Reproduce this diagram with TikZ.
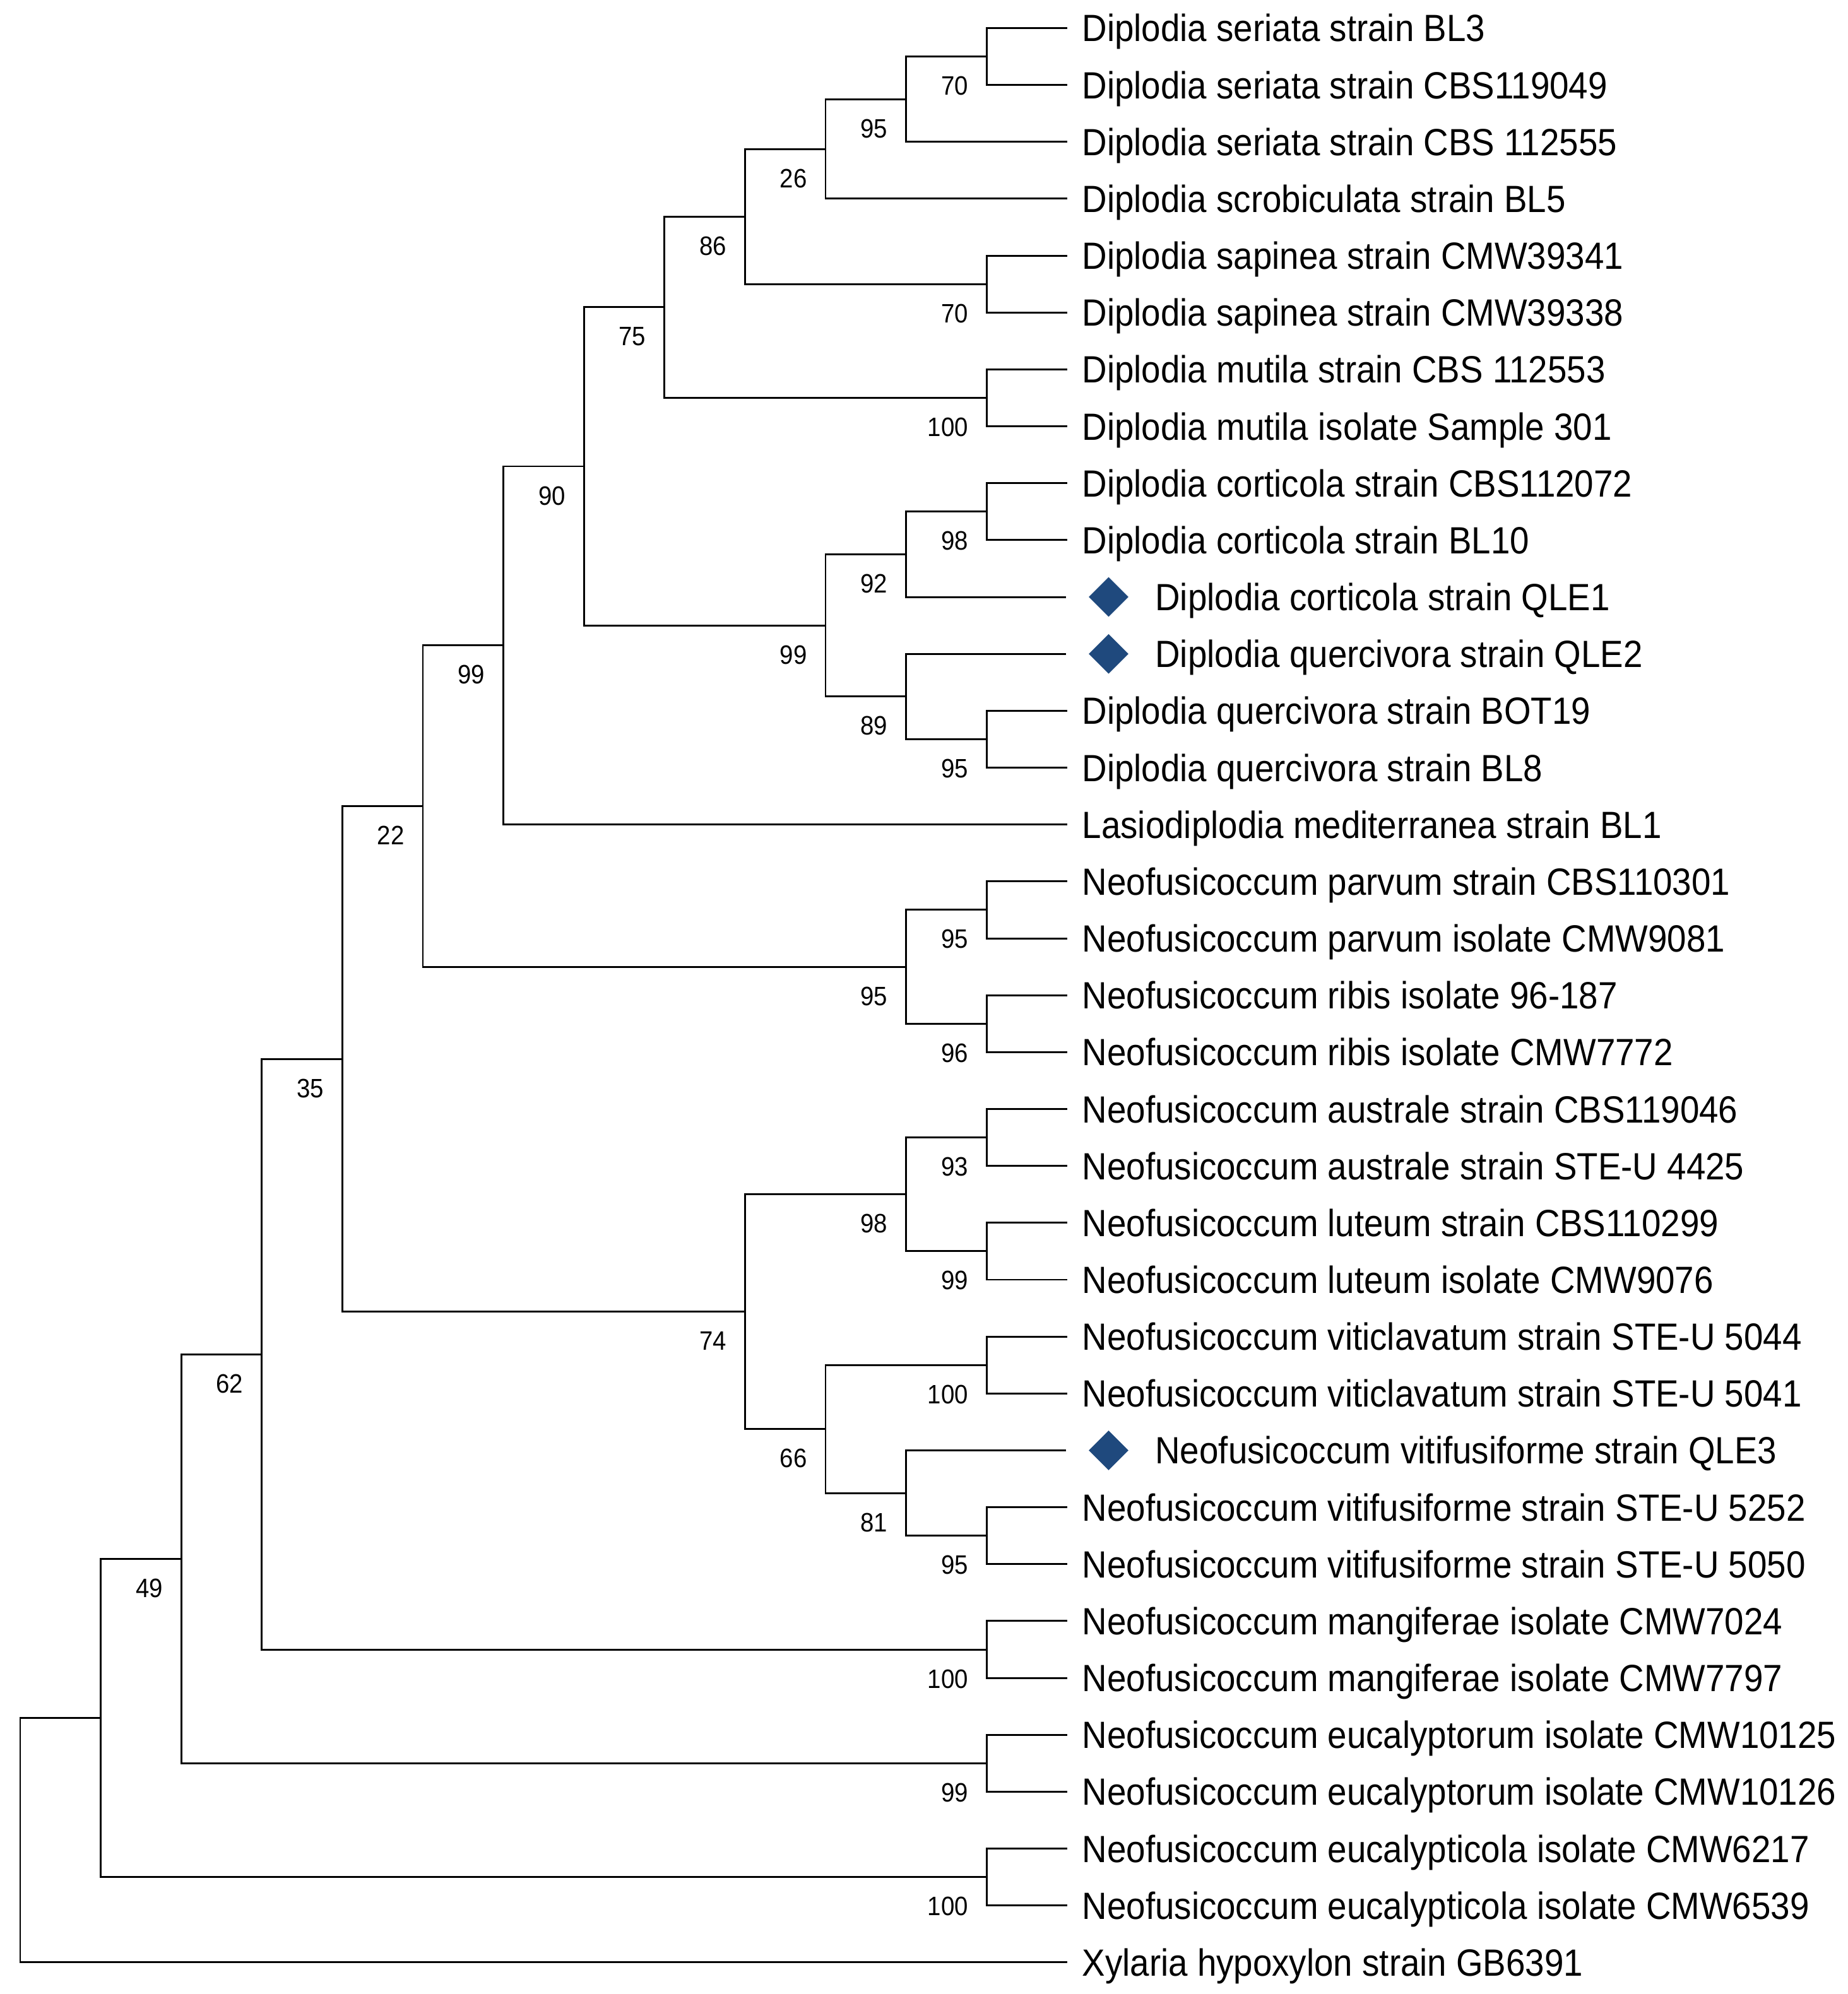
\documentclass[tikz,border=0pt]{standalone}
\usepackage{fontspec}
\setmainfont[FakeStretch=0.91]{Liberation Sans}
\usepackage{tikz}
\usetikzlibrary{positioning,shapes.geometric}
\definecolor{qleblue}{RGB}{31,73,125}
\tikzset{
  taxon/.style={anchor=west, inner xsep=0.24cm, inner ysep=0pt, outer sep=0pt,
    text height=0.43cm, text depth=0pt, font=\fontsize{17.1}{20}\selectfont},
  boot/.style={anchor=east, inner sep=0pt, xshift=-0.28cm, yshift=-0.46cm,
    text height=0.30cm, text depth=0pt, font=\fontsize{12}{14}\selectfont},
  newseq/.style={diamond, aspect=1, fill=qleblue, draw=none, inner sep=0pt,
    minimum width=0.64cm, minimum height=0.64cm}
}

\begin{document}
\begin{tikzpicture}[x=1.276cm, y=-0.9016cm, line width=0.85pt]
      \useasboundingbox (-0.2508,0.5065) rectangle (22.696,35.556);
      %%%%%%%%%%%%%%%%%%%%%%%%%%%%%%%%%%%%%%%%%%%%%%%
      \node[taxon] at (13,1)  (t1)  {Diplodia seriata strain BL3};
      \node[taxon] at (13,2)  (t2)  {Diplodia seriata strain CBS119049};
      \node[taxon] at (13,3)  (t3)  {Diplodia seriata strain CBS 112555};
      \node[taxon] at (13,4)  (t4)  {Diplodia scrobiculata strain BL5};
      \node[taxon] at (13,5)  (t5)  {Diplodia sapinea strain CMW39341};
      \node[taxon] at (13,6)  (t6)  {Diplodia sapinea strain CMW39338};
      \node[taxon] at (13,7)  (t7)  {Diplodia mutila strain CBS 112553};
      \node[taxon] at (13,8)  (t8)  {Diplodia mutila isolate Sample 301};
      \node[taxon] at (13,9)  (t9)  {Diplodia corticola strain CBS112072};
      \node[taxon] at (13,10) (t10) {Diplodia corticola strain BL10};
      \node[newseq] at (13.515,11) (q11) {};
      \node[taxon, right=0.165cm of q11] (t11) {Diplodia corticola strain QLE1};
      \node[newseq] at (13.515,12) (q12) {};
      \node[taxon, right=0.165cm of q12] (t12) {Diplodia quercivora strain QLE2};
      \node[taxon] at (13,13) (t13) {Diplodia quercivora strain BOT19};
      \node[taxon] at (13,14) (t14) {Diplodia quercivora strain BL8};
      \node[taxon] at (13,15) (t15) {Lasiodiplodia mediterranea strain BL1};
      %%%%%%%%%%%%%%%%%%%%%%%%%%%%%%%%%%%%%%%%%%%%%%%
      \node[taxon] at (13,16) (t16) {Neofusicoccum parvum strain CBS110301};
      \node[taxon] at (13,17) (t17) {Neofusicoccum parvum isolate CMW9081};
      \node[taxon] at (13,18) (t18) {Neofusicoccum ribis isolate 96-187};
      \node[taxon] at (13,19) (t19) {Neofusicoccum ribis isolate CMW7772};
      \node[taxon] at (13,20) (t20) {Neofusicoccum australe strain CBS119046};
      \node[taxon] at (13,21) (t21) {Neofusicoccum australe strain STE-U 4425};
      \node[taxon] at (13,22) (t22) {Neofusicoccum luteum strain CBS110299};
      \node[taxon] at (13,23) (t23) {Neofusicoccum luteum isolate CMW9076};
      \node[taxon] at (13,24) (t24) {Neofusicoccum viticlavatum strain STE-U 5044};
      \node[taxon] at (13,25) (t25) {Neofusicoccum viticlavatum strain STE-U 5041};
      \node[newseq] at (13.515,26) (q26) {};
      \node[taxon, right=0.165cm of q26] (t26) {Neofusicoccum vitifusiforme strain QLE3};
      \node[taxon] at (13,27) (t27) {Neofusicoccum vitifusiforme strain STE-U 5252};
      \node[taxon] at (13,28) (t28) {Neofusicoccum vitifusiforme strain STE-U 5050};
      \node[taxon] at (13,29) (t29) {Neofusicoccum mangiferae isolate CMW7024};
      \node[taxon] at (13,30) (t30) {Neofusicoccum mangiferae isolate CMW7797};
      \node[taxon] at (13,31) (t31) {Neofusicoccum eucalyptorum isolate CMW10125};
      \node[taxon] at (13,32) (t32) {Neofusicoccum eucalyptorum isolate CMW10126};
      \node[taxon] at (13,33) (t33) {Neofusicoccum eucalypticola isolate CMW6217};
      \node[taxon] at (13,34) (t34) {Neofusicoccum eucalypticola isolate CMW6539};
      \node[taxon] at (13,35) (t35) {Xylaria hypoxylon strain GB6391};
      %%%%%%%%%%%%%%%%%%%%%%%%%%%%%%%%%%%%%%%%%%%%%%%
      \coordinate (n1)  at (12,1.5);
      \coordinate (n2)  at (11,2.25);
      \coordinate (n3)  at (10,3.125);
      \coordinate (n4)  at (12,5.5);
      \coordinate (n5)  at (9,4.3125);
      \coordinate (n6)  at (12,7.5);
      \coordinate (n7)  at (8,5.90625);
      \coordinate (n8)  at (12,9.5);
      \coordinate (n9)  at (11,10.25);
      \coordinate (n10) at (12,13.5);
      \coordinate (n11) at (11,12.75);
      \coordinate (n12) at (10,11.5);
      \coordinate (n13) at (7,8.703125);
      \coordinate (n14) at (6,11.8515625);
      \coordinate (n15) at (12,16.5);
      \coordinate (n16) at (12,18.5);
      \coordinate (n17) at (11,17.5);
      \coordinate (n18) at (5,14.67578);
      \coordinate (n19) at (12,20.5);
      \coordinate (n20) at (12,22.5);
      \coordinate (n21) at (11,21.5);
      \coordinate (n22) at (12,24.5);
      \coordinate (n23) at (12,27.5);
      \coordinate (n24) at (11,26.75);
      \coordinate (n25) at (10,25.625);
      \coordinate (n26) at (9,23.5625);
      \coordinate (n27) at (4,19.11914);
      \coordinate (n28) at (12,29.5);
      \coordinate (n29) at (3,24.30957);
      \coordinate (n30) at (12,31.5);
      \coordinate (n31) at (2,27.90479);
      \coordinate (n32) at (12,33.5);
      \coordinate (n33) at (1,30.70239);
      \coordinate (root) at (0,32.85120);
      %%%%%%%%%%%%%%%%%%%%%%%%%%%%%%%%%%%%%%%%%%%%%%%
      \node[boot] at (n1)  (b1)  {70};
      \node[boot] at (n2)  (b2)  {95};
      \node[boot] at (n3)  (b3)  {26};
      \node[boot] at (n4)  (b4)  {70};
      \node[boot] at (n5)  (b5)  {86};
      \node[boot] at (n6)  (b6)  {100};
      \node[boot] at (n7)  (b7)  {75};
      \node[boot] at (n8)  (b8)  {98};
      \node[boot] at (n9)  (b9)  {92};
      \node[boot] at (n10) (b10) {95};
      \node[boot] at (n11) (b11) {89};
      \node[boot] at (n12) (b12) {99};
      \node[boot] at (n13) (b13) {90};
      \node[boot] at (n14) (b14) {99};
      \node[boot] at (n15) (b15) {95};
      \node[boot] at (n16) (b16) {96};
      \node[boot] at (n17) (b17) {95};
      \node[boot] at (n18) (b18) {22};
      \node[boot] at (n19) (b19) {93};
      \node[boot] at (n20) (b20) {99};
      \node[boot] at (n21) (b21) {98};
      \node[boot] at (n22) (b22) {100};
      \node[boot] at (n23) (b23) {95};
      \node[boot] at (n24) (b24) {81};
      \node[boot] at (n25) (b25) {66};
      \node[boot] at (n26) (b26) {74};
      \node[boot] at (n27) (b27) {35};
      \node[boot] at (n28) (b28) {100};
      \node[boot] at (n29) (b29) {62};
      \node[boot] at (n30) (b30) {99};
      \node[boot] at (n31) (b31) {49};
      \node[boot] at (n32) (b32) {100};
      %%%%%%%%%%%%%%%%%%%%%%%%%%%%%%%%%%%%%%%%%%%%%%%
      \draw (n1) |- (t1)   (n1) |- (t2)
            (n2) |- (n1)   (n2) |- (t3)
            (n3) |- (n2)   (n3) |- (t4)
            (n4) |- (t5)   (n4) |- (t6)
            (n5) |- (n3)   (n5) |- (n4)
            (n6) |- (t7)   (n6) |- (t8)
            (n7) |- (n5)   (n7) |- (n6)
            (n8) |- (t9)   (n8) |- (t10)
            (n9) |- (n8)
            (n10) |- (t13) (n10) |- (t14)
            (n11) |- (n10)
            (n12) |- (n9)  (n12) |- (n11)
            (n13) |- (n7)  (n13) |- (n12)
            (n14) |- (n13) (n14) |- (t15);
      \draw[shorten >=0.34cm] (n9) |- (q11);
      \draw[shorten >=0.34cm] (n11) |- (q12);
      %%%%%%%%%%%%%%%%%%%%%%%%%%%%%%%%%%%%%%%%%%%%%%%
      \draw (n15) |- (t16) (n15) |- (t17)
            (n16) |- (t18) (n16) |- (t19)
            (n17) |- (n15) (n17) |- (n16)
            (n18) |- (n14) (n18) |- (n17)
            (n19) |- (t20) (n19) |- (t21)
            (n20) |- (t22) (n20) |- (t23)
            (n21) |- (n19) (n21) |- (n20)
            (n22) |- (t24) (n22) |- (t25)
            (n23) |- (t27) (n23) |- (t28)
            (n24) |- (n23)
            (n25) |- (n22) (n25) |- (n24)
            (n26) |- (n21) (n26) |- (n25)
            (n27) |- (n18) (n27) |- (n26);
      \draw[shorten >=0.34cm] (n24) |- (q26);
      %%%%%%%%%%%%%%%%%%%%%%%%%%%%%%%%%%%%%%%%%%%%%%%
      \draw (n28) |- (t29) (n28) |- (t30)
            (n29) |- (n27) (n29) |- (n28)
            (n30) |- (t31) (n30) |- (t32)
            (n31) |- (n29) (n31) |- (n30)
            (n32) |- (t33) (n32) |- (t34)
            (n33) |- (n31) (n33) |- (n32)
            (root) |- (n33) (root) |- (t35);
      %%%%%%%%%%%%%%%%%%%%%%%%%%%%%%%%%%%%%%%%%%%%%%%
\end{tikzpicture}
\end{document}
